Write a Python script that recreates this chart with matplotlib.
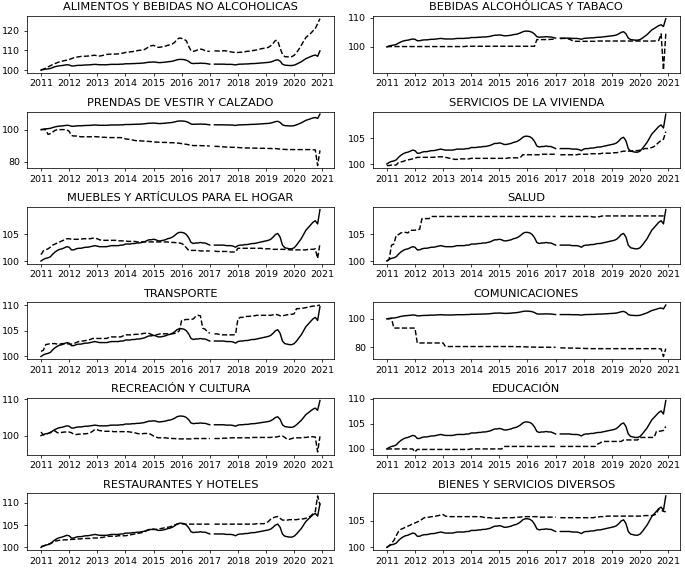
import numpy as np
import matplotlib
matplotlib.use('Agg')
import matplotlib.pyplot as plt

nan = np.nan

# monthly index, Jan 2011 .. Dec 2020 (Feb 2017 missing)
general = [
    100.0, 100.3, 100.5, 100.6, 100.8, 101.3, 101.7, 102.0, 102.2, 102.3, 102.5, 102.7,
    102.6, 102.1, 102.1, 102.3, 102.4, 102.4, 102.5, 102.6, 102.6, 102.7, 102.8, 102.9,
    102.8, 102.7, 102.7, 102.7, 102.7, 102.8, 102.9, 102.9, 102.9, 102.9, 103.0, 103.0,
    103.2, 103.2, 103.2, 103.3, 103.3, 103.4, 103.4, 103.5, 103.6, 103.8, 104.0, 104.0,
    104.1, 104.0, 103.8, 103.8, 103.9, 104.0, 104.2, 104.3, 104.5, 104.8, 105.2, 105.4,
    105.4, 105.3, 105.0, 104.4, 103.5, 103.3, 103.4, 103.4, 103.5, 103.4, 103.4, 103.2,
    103.0, nan, 103.0, 103.0, 103.0, 103.0, 103.0, 102.9, 102.9, 102.9, 102.8, 102.6,
    102.9, 103.0, 103.0, 103.1, 103.1, 103.2, 103.3, 103.3, 103.4, 103.5, 103.6, 103.7,
    103.8, 103.9, 104.1, 104.5, 105.0, 105.2, 104.5, 103.0, 102.5, 102.4, 102.3, 102.3,
    102.5, 103.0, 103.6, 104.2, 105.0, 105.8, 106.3, 106.8, 107.3, 107.6, 107.0, 109.7,
]

alimentos = [
    100.0, 100.5, 101.0, 101.6, 102.2, 102.8, 103.3, 103.8, 104.2, 104.5, 104.8, 105.0,
    105.3, 105.8, 106.2, 106.5, 106.7, 106.9, 107.0, 107.0, 107.1, 107.2, 107.4, 107.5,
    107.2, 107.1, 107.3, 107.6, 107.9, 108.0, 108.1, 108.1, 108.1, 108.2, 108.4, 108.6,
    108.9, 109.1, 109.2, 109.3, 109.6, 109.8, 110.0, 110.1, 110.3, 111.0, 111.8, 112.3,
    112.5, 112.0, 111.5, 111.6, 111.9, 112.1, 112.5, 112.8, 113.2, 114.0, 115.5, 116.2,
    116.0, 115.6, 114.8, 112.0, 109.8, 109.5, 109.8, 110.3, 110.6, 110.4, 109.8, 109.5,
    109.5, nan, 109.7, 109.7, 109.6, 109.6, 109.8, 109.7, 109.5, 109.2, 109.0, 108.9,
    108.9, 109.0, 109.1, 109.3, 109.5, 109.6, 109.8, 110.0, 110.2, 110.5, 110.8, 111.0,
    111.2, 111.5, 112.3, 113.5, 115.0, 114.8, 111.0, 108.0, 106.8, 106.7, 106.7, 106.8,
    107.5, 108.8, 110.5, 112.5, 114.5, 116.5, 117.5, 118.5, 119.8, 121.0, 123.5, 126.0,
]

bebidas = [
    100.0, 100.1, 100.1, 100.1, 100.1, 100.1, 100.1, 100.1, 100.1, 100.1, 100.1, 100.1,
    100.1, 100.1, 100.1, 100.1, 100.1, 100.1, 100.1, 100.1, 100.1, 100.1, 100.1, 100.1,
    100.1, 100.1, 100.1, 100.1, 100.1, 100.1, 100.1, 100.1, 100.1, 100.1, 100.2, 100.2,
    100.2, 100.2, 100.2, 100.2, 100.2, 100.2, 100.2, 100.2, 100.2, 100.2, 100.2, 100.2,
    100.2, 100.2, 100.2, 100.2, 100.2, 100.2, 100.2, 100.2, 100.2, 100.2, 100.2, 100.2,
    100.2, 100.2, 100.2, 100.2, 102.5, 102.5, 102.5, 102.5, 102.5, 102.5, 102.6, 102.6,
    102.6, nan, 102.8, 102.9, 102.9, 102.8, 102.6, 102.2, 101.9, 101.9, 101.9, 101.9,
    101.9, 101.9, 101.9, 101.9, 101.9, 101.9, 102.0, 102.0, 102.0, 102.0, 102.0, 102.0,
    102.0, 102.0, 102.0, 102.0, 102.0, 102.0, 102.0, 102.0, 102.0, 102.0, 102.0, 102.0,
    102.0, 102.0, 102.0, 102.0, 102.0, 102.0, 102.0, 102.1, 102.2, 104.5, 92.0, 104.5,
]

prendas = [
    100.0, 100.0, 100.0, 97.0, 97.5, 98.5, 99.5, 100.0, 100.0, 100.0, 100.0, 99.8,
    99.0, 96.3, 96.0, 96.0, 95.8, 95.5, 95.5, 95.5, 95.5, 95.5, 95.6, 95.6,
    95.5, 95.4, 95.2, 95.2, 95.1, 95.0, 95.0, 95.0, 95.0, 95.0, 95.0, 94.8,
    94.2, 94.0, 93.8, 93.5, 93.2, 93.0, 93.0, 92.9, 92.8, 92.7, 92.6, 92.5,
    92.3, 92.2, 92.1, 92.0, 92.0, 92.0, 91.9, 91.8, 91.8, 91.7, 91.6, 91.5,
    91.2, 91.0, 90.8, 90.5, 90.2, 90.0, 90.0, 90.0, 90.0, 89.9, 89.9, 89.8,
    89.7, nan, 89.5, 89.5, 89.4, 89.3, 89.2, 89.1, 89.0, 89.0, 88.9, 88.9,
    88.8, 88.7, 88.6, 88.5, 88.5, 88.5, 88.4, 88.4, 88.4, 88.3, 88.3, 88.3,
    88.2, 88.2, 88.2, 88.1, 88.1, 88.0, 87.8, 87.7, 87.6, 87.5, 87.5, 87.5,
    87.5, 87.5, 87.5, 87.5, 87.5, 87.5, 87.5, 87.5, 87.4, 87.3, 77.5, 87.0,
]

vivienda = [
    99.7, 99.7, 99.8, 99.8, 99.8, 100.3, 100.4, 100.5, 100.7, 100.8, 100.9, 101.0,
    101.1, 101.3, 101.3, 101.3, 101.3, 101.3, 101.3, 101.3, 101.3, 101.4, 101.4, 101.4,
    101.4, 101.3, 101.2, 101.1, 101.0, 100.9, 100.9, 101.0, 101.0, 101.0, 101.0, 101.0,
    101.1, 101.1, 101.1, 101.1, 101.1, 101.1, 101.1, 101.1, 101.1, 101.1, 101.1, 101.1,
    101.1, 101.1, 101.1, 101.1, 101.2, 101.2, 101.2, 101.2, 101.2, 101.3, 101.8, 101.8,
    101.8, 101.8, 101.8, 101.8, 101.8, 101.8, 101.9, 101.9, 101.9, 101.9, 101.9, 101.9,
    101.9, nan, 101.8, 101.8, 101.8, 101.8, 101.8, 101.8, 101.8, 101.8, 101.9, 101.9,
    101.9, 101.9, 101.9, 102.0, 102.0, 102.0, 102.0, 102.0, 102.1, 102.1, 102.1, 102.1,
    102.1, 102.2, 102.2, 102.3, 102.4, 102.5, 102.5, 102.5, 102.5, 102.6, 102.6, 102.6,
    102.7, 102.8, 103.0, 103.0, 103.1, 103.2, 103.4, 103.8, 104.2, 104.6, 104.8, 106.3,
]

muebles = [
    101.2, 101.9, 102.1, 102.3, 102.6, 103.0, 103.2, 103.4, 103.6, 103.8, 104.0, 104.2,
    104.2, 104.1, 104.1, 104.1, 104.1, 104.1, 104.2, 104.2, 104.2, 104.2, 104.3, 104.3,
    104.2, 104.0, 103.9, 103.9, 103.9, 103.9, 103.9, 103.9, 103.9, 103.8, 103.8, 103.8,
    103.8, 103.7, 103.7, 103.7, 103.7, 103.6, 103.6, 103.6, 103.6, 103.6, 103.6, 103.6,
    103.6, 103.6, 103.6, 103.6, 103.6, 103.6, 103.6, 103.5, 103.5, 103.5, 103.4, 103.4,
    103.3, 103.0, 102.5, 102.0, 102.0, 102.0, 102.0, 102.0, 101.9, 101.9, 101.9, 101.9,
    101.9, nan, 101.9, 101.8, 101.8, 101.8, 101.8, 101.8, 101.8, 101.7, 101.7, 101.7,
    102.4, 102.4, 102.4, 102.4, 102.4, 102.4, 102.4, 102.4, 102.4, 102.4, 102.4, 102.3,
    102.3, 102.3, 102.3, 102.2, 102.2, 102.2, 102.2, 102.2, 102.2, 102.2, 102.1, 102.1,
    102.1, 102.1, 102.1, 102.1, 102.1, 102.1, 102.2, 102.2, 102.2, 102.3, 100.5, 103.3,
]

salud = [
    100.0, 100.3, 103.0, 103.2, 104.8, 105.0, 105.3, 105.4, 105.4, 105.3, 105.8, 105.8,
    105.8, 105.9, 106.0, 108.0, 108.0, 108.0, 108.0, 108.4, 108.4, 108.4, 108.4, 108.4,
    108.4, 108.4, 108.4, 108.4, 108.4, 108.4, 108.4, 108.4, 108.4, 108.4, 108.4, 108.4,
    108.4, 108.4, 108.4, 108.4, 108.4, 108.4, 108.4, 108.4, 108.4, 108.4, 108.4, 108.4,
    108.4, 108.4, 108.4, 108.4, 108.4, 108.4, 108.4, 108.4, 108.4, 108.4, 108.4, 108.4,
    108.4, 108.4, 108.4, 108.4, 108.4, 108.4, 108.4, 108.4, 108.4, 108.4, 108.4, 108.4,
    108.4, nan, 108.4, 108.4, 108.4, 108.4, 108.4, 108.4, 108.4, 108.4, 108.4, 108.4,
    108.4, 108.4, 108.4, 108.4, 108.3, 108.3, 108.3, 108.4, 108.5, 108.5, 108.5, 108.5,
    108.5, 108.5, 108.5, 108.5, 108.5, 108.5, 108.5, 108.5, 108.5, 108.5, 108.5, 108.5,
    108.5, 108.5, 108.5, 108.5, 108.5, 108.5, 108.5, 108.5, 108.5, 108.5, 108.5, 108.5,
]

transporte = [
    101.0, 101.2, 102.3, 102.4, 102.5, 102.5, 102.5, 102.4, 102.4, 102.5, 102.5, 102.5,
    102.4, 102.4, 102.5, 102.7, 102.9, 103.0, 103.0, 103.1, 103.2, 103.3, 103.5, 103.5,
    103.5, 103.5, 103.5, 103.5, 103.5, 103.7, 103.8, 103.8, 103.8, 103.8, 103.8, 104.0,
    104.2, 104.2, 104.2, 104.2, 104.3, 104.3, 104.4, 104.4, 104.5, 104.5, 104.5, 104.3,
    104.1, 104.2, 104.3, 104.4, 104.4, 104.4, 104.4, 104.4, 104.4, 104.5, 104.6, 105.0,
    107.0, 107.1, 107.2, 107.2, 107.2, 107.3, 107.8, 108.0, 107.9, 105.5, 105.3, 104.8,
    104.5, nan, 104.4, 104.4, 104.3, 104.2, 104.2, 104.2, 104.2, 104.2, 104.2, 104.3,
    107.3, 107.6, 107.6, 107.7, 107.8, 107.8, 107.9, 107.9, 108.0, 108.0, 108.0, 108.0,
    108.0, 108.0, 108.0, 108.1, 108.2, 108.1, 107.9, 107.9, 108.0, 108.1, 108.2, 108.2,
    108.3, 109.3, 109.3, 109.4, 109.4, 109.5, 109.6, 109.7, 109.8, 109.8, 109.9, 110.0,
]

comunicaciones = [
    100.0, 100.0, 100.3, 93.5, 93.5, 93.5, 93.5, 93.5, 93.5, 93.5, 93.5, 93.5,
    93.5, 83.0, 83.0, 83.0, 83.0, 83.0, 83.0, 83.0, 83.0, 83.0, 83.0, 83.0,
    83.0, 80.5, 80.5, 80.5, 80.5, 80.5, 80.5, 80.5, 80.5, 80.5, 80.5, 80.5,
    80.5, 80.5, 80.5, 80.5, 80.5, 80.5, 80.5, 80.5, 80.5, 80.5, 80.5, 80.5,
    80.5, 80.5, 80.5, 80.5, 80.5, 80.5, 80.5, 80.4, 80.4, 80.4, 80.3, 80.3,
    80.2, 80.2, 80.1, 80.1, 80.0, 80.0, 80.0, 80.0, 80.0, 80.0, 80.0, 80.0,
    80.0, nan, 79.6, 79.5, 79.5, 79.5, 79.4, 79.4, 79.3, 79.3, 79.3, 79.2,
    79.2, 79.1, 79.1, 79.0, 79.0, 79.0, 79.0, 79.0, 79.0, 79.0, 79.0, 79.0,
    79.0, 79.0, 79.0, 79.0, 79.0, 79.0, 79.0, 79.0, 79.0, 79.0, 79.0, 79.0,
    79.0, 79.0, 79.0, 79.0, 79.0, 79.0, 79.0, 79.0, 79.0, 78.8, 73.5, 79.0,
]

recreacion = [
    101.0, 100.2, 100.4, 100.6, 100.9, 101.2, 101.3, 100.8, 100.8, 100.9, 101.0, 101.0,
    101.0, 100.8, 100.4, 100.3, 100.4, 100.4, 100.5, 100.5, 100.6, 100.8, 101.2, 101.7,
    101.6, 101.4, 101.3, 101.2, 101.2, 101.2, 101.2, 101.1, 101.1, 101.1, 101.1, 101.1,
    101.1, 101.1, 101.0, 100.9, 100.8, 100.6, 100.5, 100.5, 100.6, 100.6, 100.6, 100.3,
    99.9, 99.6, 99.4, 99.4, 99.4, 99.4, 99.3, 99.3, 99.2, 99.2, 99.1, 99.1,
    99.1, 99.1, 99.1, 99.1, 99.1, 99.2, 99.2, 99.2, 99.2, 99.2, 99.2, 99.2,
    99.2, nan, 99.2, 99.2, 99.2, 99.2, 99.3, 99.3, 99.3, 99.4, 99.4, 99.4,
    99.4, 99.4, 99.4, 99.4, 99.4, 99.4, 99.5, 99.5, 99.5, 99.5, 99.5, 99.5,
    99.5, 99.5, 99.5, 99.6, 99.6, 99.7, 99.9, 99.9, 99.5, 99.0, 99.0, 99.2,
    99.4, 99.4, 99.4, 99.4, 99.5, 99.5, 99.6, 99.7, 99.7, 99.6, 95.5, 99.8,
]

educacion = [
    100.0, 100.0, 100.0, 100.0, 100.0, 100.0, 100.0, 100.0, 100.0, 100.0, 100.0, 100.0,
    99.4, 99.9, 99.9, 99.9, 99.9, 99.9, 99.9, 99.9, 99.9, 99.9, 99.9, 99.9,
    99.9, 99.9, 99.9, 99.9, 99.9, 99.9, 99.9, 99.9, 99.9, 99.9, 99.9, 99.9,
    100.0, 100.0, 100.0, 100.0, 100.0, 100.0, 100.0, 100.0, 100.0, 100.0, 100.0, 100.0,
    100.0, 100.0, 100.5, 100.5, 100.5, 100.5, 100.5, 100.5, 100.5, 100.5, 100.5, 100.5,
    100.5, 100.5, 100.5, 100.5, 100.5, 100.5, 100.5, 100.5, 100.5, 100.5, 100.5, 100.5,
    100.5, nan, 100.5, 100.5, 100.5, 100.5, 100.5, 100.5, 100.5, 100.5, 100.5, 100.5,
    100.5, 100.5, 100.5, 100.5, 100.5, 100.5, 101.0, 101.2, 101.5, 101.5, 101.5, 101.5,
    101.5, 101.5, 101.5, 101.5, 101.5, 101.8, 101.8, 101.8, 101.8, 101.8, 101.8, 101.8,
    102.3, 102.3, 102.3, 102.3, 102.3, 102.3, 102.3, 103.5, 103.5, 103.6, 103.7, 104.5,
]

restaurantes = [
    100.2, 100.3, 100.5, 100.7, 100.9, 101.1, 101.4, 101.5, 101.6, 101.6, 101.7, 101.7,
    101.7, 101.8, 101.8, 101.8, 101.9, 101.9, 102.0, 102.0, 102.0, 102.0, 102.1, 102.1,
    102.1, 102.2, 102.2, 102.3, 102.4, 102.5, 102.5, 102.5, 102.5, 102.6, 102.6, 102.6,
    102.6, 102.7, 102.8, 102.9, 103.0, 103.1, 103.2, 103.3, 103.5, 103.7, 103.9, 104.0,
    104.0, 104.0, 104.1, 104.2, 104.3, 104.4, 104.5, 104.6, 104.8, 105.0, 105.2, 105.3,
    105.3, 105.2, 105.2, 105.2, 105.2, 105.2, 105.2, 105.2, 105.2, 105.2, 105.2, 105.2,
    105.2, nan, 105.2, 105.2, 105.2, 105.2, 105.2, 105.2, 105.2, 105.2, 105.2, 105.2,
    105.2, 105.2, 105.2, 105.2, 105.2, 105.2, 105.2, 105.2, 105.3, 105.3, 105.3, 105.3,
    105.4, 105.8, 106.3, 106.6, 106.8, 106.9, 106.5, 106.1, 106.1, 106.1, 106.2, 106.2,
    106.2, 106.2, 106.3, 106.3, 106.4, 106.5, 106.7, 107.0, 107.5, 108.0, 111.5, 109.5,
]

diversos = [
    100.0, 100.3, 100.8, 101.3, 102.2, 103.0, 103.4, 103.6, 103.8, 104.0, 104.2, 104.5,
    104.6, 104.8, 105.0, 105.3, 105.6, 105.7, 105.7, 105.8, 105.8, 105.9, 106.0, 106.1,
    106.2, 105.9, 105.8, 105.8, 105.8, 105.8, 105.8, 105.8, 105.8, 105.8, 105.8, 105.8,
    105.8, 105.8, 105.8, 105.8, 105.8, 105.7, 105.6, 105.6, 105.6, 105.5, 105.5, 105.5,
    105.5, 105.5, 105.6, 105.6, 105.6, 105.6, 105.6, 105.7, 105.7, 105.7, 105.8, 105.8,
    105.8, 105.8, 105.8, 105.8, 105.8, 105.7, 105.7, 105.7, 105.7, 105.7, 105.7, 105.7,
    105.7, nan, 105.6, 105.6, 105.6, 105.6, 105.6, 105.6, 105.6, 105.6, 105.6, 105.6,
    105.6, 105.6, 105.6, 105.6, 105.6, 105.7, 105.7, 105.8, 105.8, 105.8, 105.9, 105.9,
    105.9, 105.9, 105.9, 105.9, 105.9, 105.9, 105.9, 105.9, 105.9, 105.9, 105.9, 105.9,
    105.9, 105.9, 106.0, 106.0, 106.0, 106.0, 106.1, 106.3, 107.3, 107.0, 106.8, 106.7,
]

titles = [
    'ALIMENTOS Y BEBIDAS NO ALCOHOLICAS', 'BEBIDAS ALCOHÓLICAS Y TABACO',
    'PRENDAS DE VESTIR Y CALZADO', 'SERVICIOS DE LA VIVIENDA',
    'MUEBLES Y ARTÍCULOS PARA EL HOGAR', 'SALUD',
    'TRANSPORTE', 'COMUNICACIONES',
    'RECREACIÓN Y CULTURA', 'EDUCACIÓN',
    'RESTAURANTES Y HOTELES', 'BIENES Y SERVICIOS DIVERSOS',
]
series = [alimentos, bebidas, prendas, vivienda, muebles, salud,
          transporte, comunicaciones, recreacion, educacion, restaurantes, diversos]
yticks = [
    [100, 110, 120], [100, 110],
    [80, 100], [100, 105],
    [100, 105], [100, 105],
    [100, 105, 110], [80, 100],
    [100, 110], [100, 105, 110],
    [100, 105, 110], [100, 105],
]
xyears = list(range(2011, 2022))


def main():
    t = 2011 + np.arange(len(general)) / 12

    fig, axes = plt.subplots(6, 2, figsize=(10, 8.292), dpi=68.5)
    for ax, title, vals, yt in zip(axes.flat, titles, series, yticks):
        ax.plot(t, general, color='black', linestyle='-')
        ax.plot(t, vals, color='black', linestyle='--')
        ax.set_title(title)
        ax.set_xticks(xyears)
        ax.set_yticks(yt)

    plt.tight_layout(pad=0.25, h_pad=1.0, w_pad=1.2)
    plt.savefig('out.png', dpi=68.5)
    plt.close()


if __name__ == '__main__':
    main()
